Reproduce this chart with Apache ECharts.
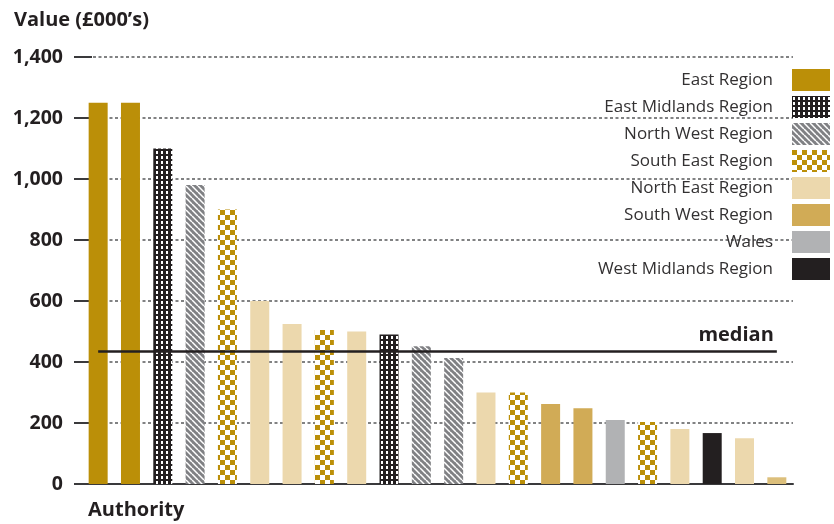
<!DOCTYPE html>
<html>
<head>
<meta charset="utf-8">
<script src="https://cdn.jsdelivr.net/npm/echarts@6/dist/echarts.min.js"></script>
<style>
  html, body { margin: 0; padding: 0; background: #fff; }
  #chart { width: 834px; height: 524px; }
</style>
</head>
<body>
<div id="chart"></div>
<script>
// Regions shown in the legend, in legend order
const regions = ['East Region', 'East Midlands Region', 'North West Region', 'South East Region',
  'North East Region', 'South West Region', 'Wales', 'West Midlands Region'];
// One bar per authority, sorted by value
const authorities = ['A1','A2','A3','A4','A5','A6','A7','A8','A9','A10','A11',
  'A12','A13','A14','A15','A16','A17','A18','A19','A20','A21','A22'];
const authorityRegion = ['East Region', 'East Region', 'East Midlands Region', 'North West Region',
  'South East Region', 'North East Region', 'North East Region', 'South East Region', 'North East Region',
  'East Midlands Region', 'North West Region', 'North West Region', 'North East Region', 'South East Region',
  'South West Region', 'South West Region', 'Wales', 'South East Region', 'North East Region',
  'West Midlands Region', 'North East Region', 'South West Region'];
const values = [1250, 1250, 1100, 980, 900, 600, 525, 505, 500, 490, 452, 413, 300, 300, 262, 248, 210, 203, 180, 167, 150, 22];
const medianValue = 436;

const INK = '#231f20';
const GOLD = '#bb8f08';

function tile(w, h, draw) {
  const c = document.createElement('canvas');
  c.width = w; c.height = h;
  draw(c.getContext('2d'));
  return { image: c, repeat: 'repeat' };
}

// Fills for each region: solids plus three hatched patterns
const fills = {
  'East Region': GOLD,
  'East Midlands Region': tile(5, 5, g => {
    g.fillStyle = INK; g.fillRect(0, 0, 5, 5);
    g.fillStyle = '#ffffff'; g.fillRect(1, 1, 2, 3);
  }),
  'North West Region': tile(6, 6, g => {
    g.fillStyle = '#808184'; g.fillRect(0, 0, 6, 6);
    g.strokeStyle = '#ffffff'; g.lineWidth = 1.5;
    [-6, 0, 6].forEach(o => {
      g.beginPath(); g.moveTo(o, 0); g.lineTo(o + 6, 6); g.stroke();
    });
  }),
  'South East Region': tile(10, 10, g => {
    g.fillStyle = '#ffffff'; g.fillRect(0, 0, 10, 10);
    g.fillStyle = GOLD; g.fillRect(0, 0, 5, 5); g.fillRect(5, 5, 5, 5);
  }),
  'North East Region': '#ecd8ad',
  'South West Region': '#d1ab56',
  'Wales': '#b1b2b4',
  'West Midlands Region': INK
};

const series = regions.map((r, idx) => ({
  name: r,
  type: 'bar',
  barWidth: 19,
  barGap: '-100%',
  itemStyle: { color: fills[r] },
  data: values.map((v, i) => {
    if (authorityRegion[i] !== r) return '-';
    // smallest authority bar is drawn in a paler tint
    if (i === values.length - 1) return { value: v, itemStyle: { color: '#dcbf7b' } };
    return v;
  }),
  markLine: idx === 0 ? {
    silent: true,
    symbol: 'none',
    lineStyle: { color: INK, width: 2.5, type: 'solid' },
    label: {
      show: true,
      position: 'insideEndTop',
      formatter: 'median',
      fontFamily: 'Open Sans',
      fontWeight: 'bold',
      fontSize: 20,
      color: INK,
      distance: [3, 6]
    },
    data: [[
      { coord: [authorities[0], medianValue] },
      { coord: [authorities[authorities.length - 1], medianValue] }
    ]]
  } : undefined
}));

const yAxisBase = {
  type: 'value',
  min: 0, max: 1400, interval: 200,
  axisLine: { show: false }
};

const chart = echarts.init(document.getElementById('chart'));
chart.setOption({
  animation: false,
  textStyle: { fontFamily: 'Open Sans' },
  grid: { left: 82, right: 41, top: 57, bottom: 40 },
  title: [
    { text: 'Value (£000\u2019s)', left: 9, top: 5,
      textStyle: { fontFamily: 'Open Sans', fontWeight: 'bold', fontSize: 20, color: INK } },
    { text: 'Authority', left: 83, top: 495,
      textStyle: { fontFamily: 'Open Sans', fontWeight: 'bold', fontSize: 20, color: INK } }
  ],
  legend: {
    data: regions,
    orient: 'vertical',
    align: 'right',
    right: 4,
    top: 69,
    padding: 0,
    itemWidth: 38,
    itemHeight: 22,
    itemGap: 5,
    icon: 'rect',
    selectedMode: false,
    textStyle: { fontFamily: 'Open Sans', fontSize: 17, color: '#333132', padding: [0, 14, 7, 0] }
  },
  xAxis: {
    type: 'category',
    data: authorities,
    axisLine: { show: true, lineStyle: { color: '#3a3a3c', width: 2 } },
    axisTick: { show: false },
    axisLabel: { show: false },
    splitLine: { show: false }
  },
  yAxis: [
    Object.assign({}, yAxisBase, {
      axisTick: { show: true, length: 8, lineStyle: { color: '#3a3a3c', width: 2 } },
      axisLabel: {
        margin: 19,
        fontFamily: 'Open Sans', fontWeight: 'bold', fontSize: 19.5, color: INK,
        formatter: v => v.toLocaleString('en-GB')
      },
      splitLine: { show: true, lineStyle: { color: '#58595b', width: 1.5, type: [3, 2.5] } }
    }),
    Object.assign({}, yAxisBase, {
      position: 'left',
      axisTick: { show: true, inside: true, length: 10, lineStyle: { color: '#3a3a3c', width: 2 } },
      axisLabel: { show: false },
      splitLine: { show: false }
    })
  ],
  series: series
});
</script>
</body>
</html>
